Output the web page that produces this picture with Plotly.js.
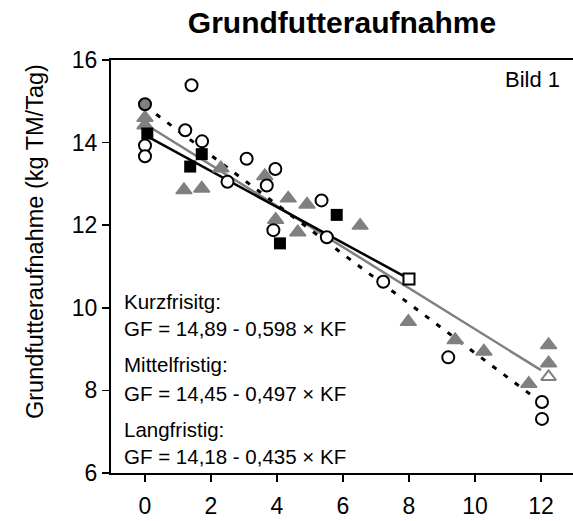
<!DOCTYPE html>
<html>
<head>
<meta charset="utf-8">
<script src="https://cdn.plot.ly/plotly-3.0.1.min.js"></script>
<style>html,body{margin:0;padding:0;background:#fff;}#chart{width:573px;height:521px;}</style>
</head>
<body>
<div id="chart"></div>
<script>
// ---- data ----
// Kurzfristig (open circles)
const circX = [0, 0, 1.41, 1.22, 1.73, 2.50, 3.08, 3.95, 3.69, 5.35, 3.89, 5.51, 7.22, 9.19, 12.03, 12.03];
const circY = [13.93, 13.67, 15.39, 14.30, 14.03, 13.05, 13.61, 13.36, 12.96, 12.60, 11.88, 11.71, 10.63, 8.80, 7.72, 7.31];
// point where circle and triangle coincide (drawn gray-filled)
const bothX = [0];
const bothY = [14.93];
// Mittelfristig (gray triangles)
const triX = [0, 0, 1.18, 1.72, 2.30, 3.63, 4.34, 4.91, 3.96, 4.63, 6.52, 7.98, 9.40, 10.27, 11.63, 12.23, 12.23];
const triY = [14.60, 14.42, 12.85, 12.89, 13.38, 13.19, 12.65, 12.50, 12.13, 11.83, 11.99, 9.66, 9.22, 8.94, 8.16, 9.10, 8.66];
// Langfristig (black squares)
const sqX = [0.07, 1.37, 1.72, 4.09, 5.81];
const sqY = [14.22, 13.42, 13.72, 11.56, 12.25];
// predicted end points (open markers)
const openSqX = [8];
const openSqY = [10.70];
const openTriX = [12.23];
const openTriY = [8.33];
// regression lines (end points)
const kurzLineX = [0, 12];
const kurzLineY = [14.89, 7.71];
const mittelLineX = [0, 12];
const mittelLineY = [14.45, 8.49];
const langLineX = [0, 8];
const langLineY = [14.18, 10.70];
// texts
const titleText = 'Grundfutteraufnahme';
const yTitleText = 'Grundfutteraufnahme (kg TM/Tag)';
const eqLabels = ['Kurzfrisitg:', 'GF = 14,89 - 0,598 × KF', 'Mittelfristig:', 'GF = 14,45 - 0,497 × KF', 'Langfristig:', 'GF = 14,18 - 0,435 × KF'];
const bildLabel = 'Bild 1';
const xTicks = [0, 2, 4, 6, 8, 10, 12];
const yTicks = [6, 8, 10, 12, 14, 16];

// ---- styling ----
const FONT = 'Arial, "Liberation Sans", Helvetica, sans-serif';
const GRAY = '#808080';
const W = 573, H = 521;
const M = {l: 111, r: 0, t: 60, b: 48};
const plotH = H - M.t - M.b;
const pyToPaper = py => (H - M.b - py) / plotH;

const traces = [
  {x: mittelLineX, y: mittelLineY, mode: 'lines', line: {color: GRAY, width: 2.5}, hoverinfo: 'skip'},
  {x: langLineX, y: langLineY, mode: 'lines', line: {color: '#000', width: 2.5}, hoverinfo: 'skip'},
  {x: kurzLineX, y: kurzLineY, mode: 'lines', line: {color: '#000', width: 3, dash: '5px,9px'}, hoverinfo: 'skip'},
  {x: triX, y: triY, mode: 'markers', marker: {symbol: 'triangle-up', size: 14, color: GRAY, line: {width: 1.5, color: GRAY}}},
  {x: sqX, y: sqY, mode: 'markers', marker: {symbol: 'square', size: 12, color: '#000', line: {width: 0}}},
  {x: openSqX, y: openSqY, mode: 'markers', marker: {symbol: 'square', size: 11, color: '#fff', line: {width: 2, color: '#000'}}},
  {x: openTriX, y: openTriY, mode: 'markers', marker: {symbol: 'triangle-up', size: 13, color: '#fff', line: {width: 2, color: GRAY}}},
  {x: circX, y: circY, mode: 'markers', marker: {symbol: 'circle', size: 12, color: '#fff', line: {width: 2, color: '#000'}}},
  {x: bothX, y: bothY, mode: 'markers', marker: {symbol: 'circle', size: 12, color: GRAY, line: {width: 2, color: '#000'}}}
];

const eqY = [301, 328, 364, 393, 429, 456];
const annotations = eqLabels.map((t, i) => ({
  text: t, xref: 'paper', yref: 'paper', x: (122 - M.l) / (W - M.l - M.r), y: pyToPaper(eqY[i]),
  xanchor: 'left', yanchor: 'middle', showarrow: false, font: {family: FONT, size: 20.5, color: '#000'}
}));
annotations.push({
  text: bildLabel, xref: 'paper', yref: 'paper', x: (562 - M.l) / (W - M.l - M.r), y: pyToPaper(80),
  xanchor: 'right', yanchor: 'middle', showarrow: false, font: {family: FONT, size: 22, color: '#000'}
});
annotations.push({
  text: yTitleText, xref: 'paper', yref: 'paper', x: (35 - M.l) / (W - M.l - M.r), y: pyToPaper(242),
  xanchor: 'center', yanchor: 'middle', textangle: -90, showarrow: false, font: {family: FONT, size: 23.5, color: '#000'}
});

const layout = {
  width: W, height: H,
  margin: M,
  paper_bgcolor: '#fff', plot_bgcolor: '#fff',
  showlegend: false,
  font: {family: FONT, color: '#000'},
  title: {text: titleText, font: {family: FONT, size: 30, weight: 'bold', color: '#000'},
          xref: 'container', yref: 'container', x: 342 / W, y: 1 - 22 / H, xanchor: 'center', yanchor: 'middle'},
  xaxis: {range: [-1.03, 12.97], tickvals: xTicks, ticktext: xTicks.map(String), ticks: 'outside', ticklen: 7, tickwidth: 1.5, tickcolor: '#000',
          showline: true, linewidth: 2, linecolor: '#000', mirror: true, showgrid: false, zeroline: false,
          tickfont: {family: FONT, size: 23, color: '#000'}, ticklabelstandoff: 4, fixedrange: true},
  yaxis: {range: [6, 16], tickvals: yTicks, ticktext: yTicks.map(String), ticks: 'outside', ticklen: 7, tickwidth: 1.5, tickcolor: '#000',
          showline: true, linewidth: 2, linecolor: '#000', showgrid: false, zeroline: false,
          tickfont: {family: FONT, size: 23, color: '#000'}, fixedrange: true},
  annotations: annotations
};

Plotly.newPlot('chart', traces, layout, {staticPlot: true, displayModeBar: false});
</script>
</body>
</html>
